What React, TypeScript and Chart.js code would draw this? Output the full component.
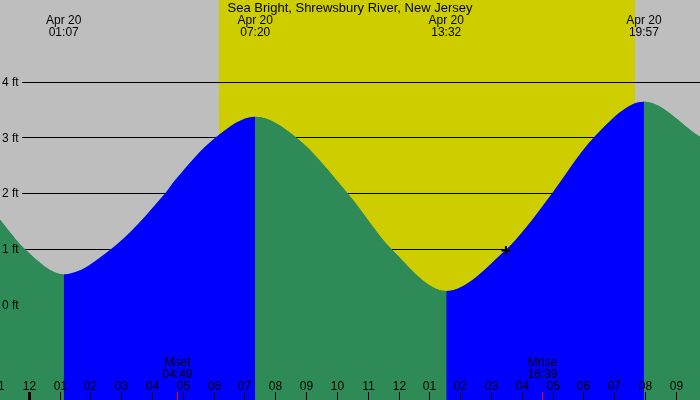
import React, { useEffect, useRef } from "react";
import { Chart, registerables } from "chart.js";

Chart.register(...registerables);

const TITLE = "Sea Bright, Shrewsbury River, New Jersey";

// Tide curve readings (hours from midnight Apr 20, feet)
const tideHours = [-0.951, -0.14, 1.117, 2.65, 4.4, 4.73, 6.03, 7.333, 8.68, 10.34, 11.76, 13.533, 15.49, 16.09, 16.96, 18.31, 19.95, 21.77];
const tideFeet = [1.53, 1.0, 0.55, 1.0, 2.0, 2.24, 3.0, 3.38, 3.0, 2.0, 1.0, 0.25, 1.0, 1.37, 2.0, 3.0, 3.65, 3.02];

// High / low tide labels
const extremaHours = [1.117, 7.333, 13.533, 19.95];
const extremaDates = ["Apr 20", "Apr 20", "Apr 20", "Apr 20"];
const extremaTimes = ["01:07", "07:20", "13:32", "19:57"];

// Daylight
const sunriseHour = 6.15;
const sunsetHour = 19.66;

// Moon events
const moonHours = [4.817, 16.65];
const moonLabels = ["Mset", "Mrise"];
const moonTimes = ["04:49", "16:39"];

// Hour ticks
const hourTicks = [-1, 0, 1, 2, 3, 4, 5, 6, 7, 8, 9, 10, 11, 12, 13, 14, 15, 16, 17, 18, 19, 20, 21];
const hourLabels = ["11", "12", "01", "02", "03", "04", "05", "06", "07", "08", "09", "10", "11", "12", "01", "02", "03", "04", "05", "06", "07", "08", "09"];
const midnightHours = [0];

// Height ticks
const feetTicks = [0, 1, 2, 3, 4];
const feetLabels = ["0 ft", "1 ft", "2 ft", "3 ft", "4 ft"];

// Current time marker
const nowHour = 15.47;
const nowFeet = 0.98;

const X_MIN = -0.951;
const X_MAX = 21.769;
const Y_MIN = -1.706;
const Y_MAX = 5.478;

const GRAY = "#BEBEBE";
const YELLOW = "#CDCD00";
const GREEN = "#2E8B57";
const BLUE = "#0000FF";
const FONT = '12px "Liberation Sans", Arial, sans-serif';
const TITLE_FONT = '13px "Liberation Sans", Arial, sans-serif';

const decorPlugin = {
  id: "tideDecor",
  beforeDraw(chart: any) {
    const { ctx, chartArea, scales } = chart;
    const xs = scales.x;
    const ys = scales.y;
    ctx.save();
    ctx.fillStyle = GRAY;
    ctx.fillRect(chartArea.left, chartArea.top, chartArea.right - chartArea.left, chartArea.bottom - chartArea.top);
    const sx0 = Math.round(xs.getPixelForValue(sunriseHour));
    const sx1 = Math.round(xs.getPixelForValue(sunsetHour));
    ctx.fillStyle = YELLOW;
    ctx.fillRect(sx0, chartArea.top, sx1 - sx0, chartArea.bottom - chartArea.top);
    ctx.strokeStyle = "#000";
    ctx.lineWidth = 1;
    feetTicks.forEach((v) => {
      const py = Math.floor(ys.getPixelForValue(v)) + 0.5;
      ctx.beginPath();
      ctx.moveTo(22, py);
      ctx.lineTo(chartArea.right, py);
      ctx.stroke();
    });
    ctx.restore();
  },
  afterDatasetsDraw(chart: any) {
    const { ctx, chartArea, scales } = chart;
    const xs = scales.x;
    const ys = scales.y;
    ctx.save();
    ctx.font = FONT;
    ctx.fillStyle = "#000";

    // y labels
    ctx.textAlign = "left";
    ctx.textBaseline = "middle";
    feetTicks.forEach((v, i) => {
      ctx.fillText(feetLabels[i], 2, ys.getPixelForValue(v) + 0.5);
    });

    // title
    ctx.textAlign = "center";
    ctx.textBaseline = "alphabetic";
    ctx.font = TITLE_FONT;
    ctx.fillText(TITLE, (chartArea.left + chartArea.right) / 2, 12);
    ctx.font = FONT;

    // extrema labels
    extremaHours.forEach((h, i) => {
      const px = xs.getPixelForValue(h);
      ctx.fillText(extremaDates[i], px, 24);
      ctx.fillText(extremaTimes[i], px, 36);
    });

    // hour ticks
    const bottom = chartArea.bottom;
    hourTicks.forEach((h, i) => {
      const px = Math.floor(xs.getPixelForValue(h)) + 0.5;
      ctx.fillText(hourLabels[i], px, 390);
      const thick = midnightHours.indexOf(h) >= 0;
      ctx.strokeStyle = "#000";
      ctx.lineWidth = thick ? 3 : 1;
      ctx.beginPath();
      ctx.moveTo(px, 392);
      ctx.lineTo(px, bottom);
      ctx.stroke();
    });

    // moon events
    moonHours.forEach((h, i) => {
      const px = Math.floor(xs.getPixelForValue(h)) + 0.5;
      ctx.fillStyle = "#000";
      ctx.fillText(moonLabels[i], px, 366);
      ctx.fillText(moonTimes[i], px, 378);
      ctx.strokeStyle = "#FF0000";
      ctx.lineWidth = 1;
      ctx.beginPath();
      ctx.moveTo(px, 392);
      ctx.lineTo(px, bottom);
      ctx.stroke();
    });
    ctx.restore();
  },
};

export default function App() {
  const canvasRef = useRef<HTMLCanvasElement | null>(null);

  useEffect(() => {
    document.body.style.margin = "0";
    const canvas = canvasRef.current;
    if (!canvas) return;
    const tidePoints = tideHours.map((h, i) => ({ x: h, y: tideFeet[i] }));
    const chart = new Chart(canvas, {
      type: "line",
      data: {
        datasets: [
          {
            data: [{ x: nowHour, y: nowFeet }],
            showLine: false,
            fill: false,
            pointStyle: "cross",
            pointRadius: 4.5,
            pointBorderWidth: 2,
            pointBorderColor: "#000",
            pointBackgroundColor: "#000",
            order: 0,
          } as any,
          {
            data: tidePoints,
            fill: "start",
            borderWidth: 0,
            borderColor: "rgba(0,0,0,0)",
            backgroundColor: GREEN,
            pointRadius: 0,
            cubicInterpolationMode: "monotone",
            segment: {
              backgroundColor: (c: any) => (c.p1.parsed.y >= c.p0.parsed.y ? BLUE : GREEN),
            },
            order: 1,
          } as any,
          {
            // underlay so that segment clip seams do not show the background
            data: tidePoints,
            fill: "start",
            borderWidth: 0,
            borderColor: "rgba(0,0,0,0)",
            backgroundColor: GREEN,
            pointRadius: 0,
            cubicInterpolationMode: "monotone",
            order: 2,
          } as any,
        ],
      },
      options: {
        responsive: false,
        animation: false,
        devicePixelRatio: 1,
        layout: { padding: 0, autoPadding: false },
        events: [],
        plugins: {
          legend: { display: false },
          tooltip: { enabled: false },
          title: { display: false },
        },
        scales: {
          x: { type: "linear", display: false, min: X_MIN, max: X_MAX },
          y: { type: "linear", display: false, min: Y_MIN, max: Y_MAX },
        },
      } as any,
      plugins: [decorPlugin],
    });
    return () => chart.destroy();
  }, []);

  return (
    <div style={{ width: 700, height: 400 }}>
      <canvas ref={canvasRef} width={700} height={400} style={{ display: "block" }} />
    </div>
  );
}
